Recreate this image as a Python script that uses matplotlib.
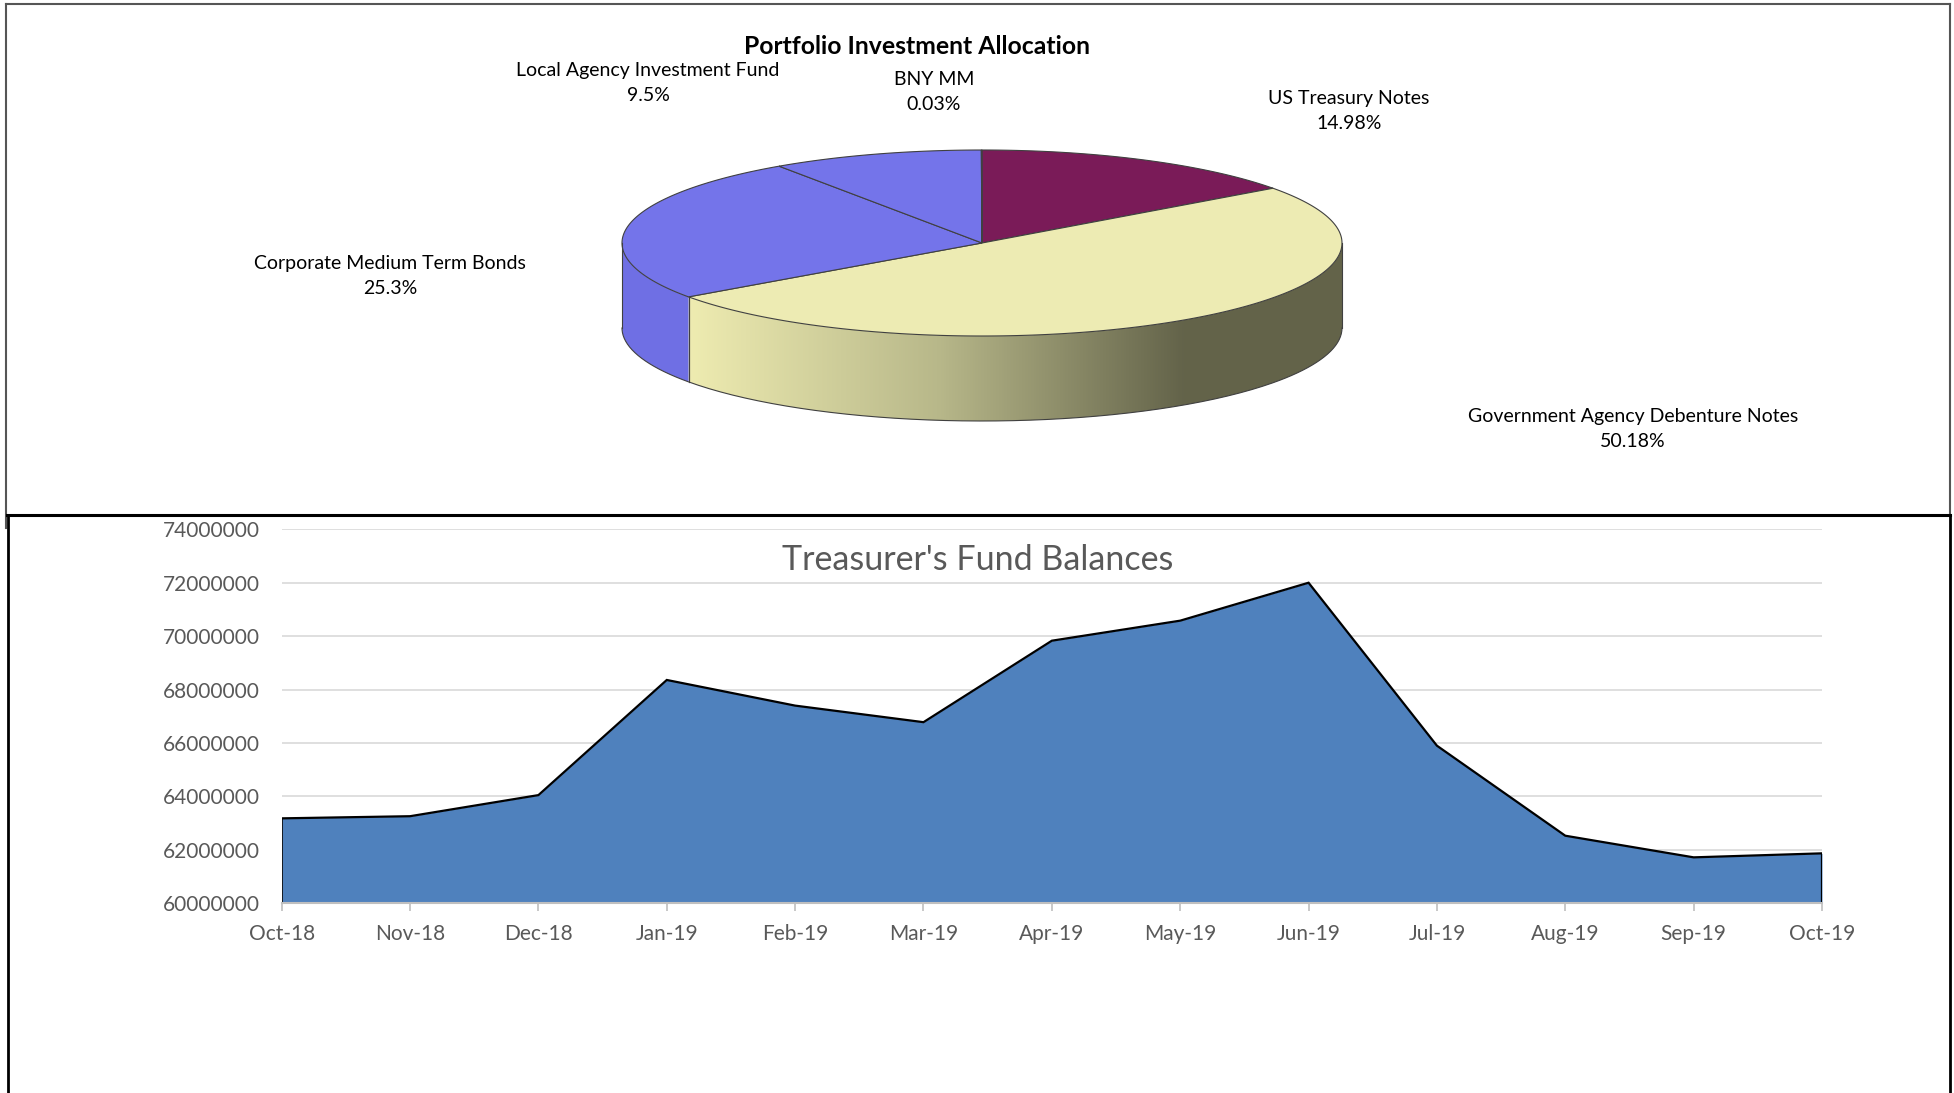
import numpy as np
import matplotlib.pyplot as plt
from matplotlib.patches import Polygon

plt.rcParams['font.family'] = ['Lato', 'DejaVu Sans']

# pie data (percent), clockwise from 12 o'clock
pie_labels = ['US Treasury Notes', 'Government Agency Debenture Notes',
              'Corporate Medium Term Bonds', 'Local Agency Investment Fund', 'BNY MM']
pie_pcts = [14.98, 50.18, 25.3, 9.5, 0.03]
pie_pct_text = ['14.98%', '50.18%', '25.3%', '9.5%', '0.03%']
pie_colors = ['#7a1b58', '#edebb3', '#7474ea', '#7474ea', '#7474ea']
side_colors = ['#5e1043', None, '#6f6fe4', '#6f6fe4', '#6f6fe4']

# fund balances
months = ['Oct-18', 'Nov-18', 'Dec-18', 'Jan-19', 'Feb-19', 'Mar-19', 'Apr-19',
          'May-19', 'Jun-19', 'Jul-19', 'Aug-19', 'Sep-19', 'Oct-19']
balances = [63180000, 63260000, 64050000, 68360000, 67400000, 66780000, 69830000,
            70580000, 72000000, 65900000, 62530000, 61720000, 61870000]

W, H = 1954, 1093
fig = plt.figure(figsize=(W / 100, H / 100), dpi=100)
ov = fig.add_axes([0, 0, 1, 1])
ov.axis('off')

# ---- 3D pie (pixel coords) ----
cx, cy, a, b, depth = 982, 243, 360, 93, 85
def pt(th, dy=0):
    th = np.radians(th)
    return cx + a * np.sin(th), cy - b * np.cos(th) + dy

bounds = np.concatenate([[0], np.cumsum(pie_pcts) / np.sum(pie_pcts) * 360])
edge = '#404040'

# side faces (front half: 90..270 deg)
for i in range(len(pie_pcts)):
    t0, t1 = max(bounds[i], 90), min(bounds[i + 1], 270)
    if t1 <= t0:
        continue
    th = np.linspace(t0, t1, 100)
    xs, ys = pt(th)
    xb, yb = pt(th[::-1], depth)
    poly = np.column_stack([np.r_[xs, xb], np.r_[ys, yb]])
    if side_colors[i] is None:
        p = Polygon(poly, closed=True, fc='none', ec='none')
        ov.add_patch(p)
        u = np.linspace(0, 1, 400)
        stops = [0.0, 0.1, 0.44, 0.78, 1.0]
        cols = np.array([[0.93, 0.92, 0.70], [0.93, 0.92, 0.69], [0.72, 0.72, 0.54],
                         [0.39, 0.39, 0.29], [0.39, 0.39, 0.29]])
        grad = np.stack([np.interp(u, stops, cols[:, k]) for k in range(3)], axis=-1)[None]
        im = ov.imshow(grad, extent=(cx - a, cx + a, cy + b + depth, cy - b),
                       aspect='auto', zorder=1)
        im.set_clip_path(p)
    else:
        ov.add_patch(Polygon(poly, closed=True, fc=side_colors[i], ec='none', zorder=1))
    # vertical edges
    for t in (t0, t1):
        x0, y0 = pt(t)
        ov.plot([x0, x0], [y0, y0 + depth], color=edge, lw=0.8, zorder=3)

# bottom arc outline
th = np.linspace(90, 270, 200)
xb, yb = pt(th, depth)
ov.plot(xb, yb, color=edge, lw=0.8, zorder=3)

# top faces
for i in range(len(pie_pcts)):
    th = np.linspace(bounds[i], bounds[i + 1], 200)
    xs, ys = pt(th)
    poly = np.column_stack([np.r_[cx, xs], np.r_[cy, ys]])
    ov.add_patch(Polygon(poly, closed=True, fc=pie_colors[i], ec=edge, lw=0.8, zorder=2))

# labels
lbl_pos = [(1349, 111), (1633, 429), (390, 276), (648, 83), (934, 92)]
for lab, txt, (x, y) in zip(pie_labels, pie_pct_text, lbl_pos):
    ov.text(x, y, lab + '\n' + txt, ha='center', va='center', fontsize=14,
            color='black', linespacing=1.6)
ov.text(917, 47, 'Portfolio Investment Allocation', ha='center', va='center',
        fontsize=17.8, fontweight='bold', color='black')

# frames
ov.plot([6, 1950], [4, 4], color='#555555', lw=1.5)
ov.plot([6, 6], [4, 528], color='#555555', lw=1.5)
ov.plot([1950, 1950], [4, 515], color='#555555', lw=1.5)
ov.plot([7, 1950], [515, 515], color='black', lw=2.2)
ov.plot([8, 8], [515, H], color='black', lw=2)
ov.plot([1950, 1950], [515, H], color='black', lw=2)

ov.text(978, 560, "Treasurer's Fund Balances", ha='center', va='center',
        fontsize=24.5, color='#595959')

ov.set_xlim(0, W)
ov.set_ylim(H, 0)

# ---- area chart ----
ax = fig.add_axes([281.7 / W, 1 - 903.3 / H, (1822 - 281.7) / W, (903.3 - 529.3) / H])
ax.patch.set_alpha(0)
x = np.arange(len(months))
base = 60000000
ax.fill_between(x, balances, base, color='#4f81bd', lw=0, zorder=2)
ax.plot(np.r_[x[0], x, x[-1]], np.r_[base, balances, base], color='black', lw=1.6,
        zorder=3, solid_joinstyle='miter')
ax.set_xlim(0, len(months) - 1)
ax.set_ylim(60000000, 74000000)
ax.set_yticks(np.arange(60000000, 74000001, 2000000))
ax.set_yticklabels([str(v) for v in range(60000000, 74000001, 2000000)])
ax.set_xticks(x)
ax.set_xticklabels(months)
ax.grid(axis='y', color='#d9d9d9', lw=1.2, zorder=0)
for s in ('top', 'right', 'left'):
    ax.spines[s].set_visible(False)
ax.spines['bottom'].set_color('#bfbfbf')
ax.spines['bottom'].set_linewidth(1.5)
ax.spines['bottom'].set_zorder(4)
ax.tick_params(axis='y', length=0, pad=16, labelsize=15, labelcolor='#595959')
ax.tick_params(axis='x', length=6, color='#bfbfbf', width=1.2, pad=9,
               labelsize=15, labelcolor='#595959')

fig.savefig('out.png', dpi=100)
